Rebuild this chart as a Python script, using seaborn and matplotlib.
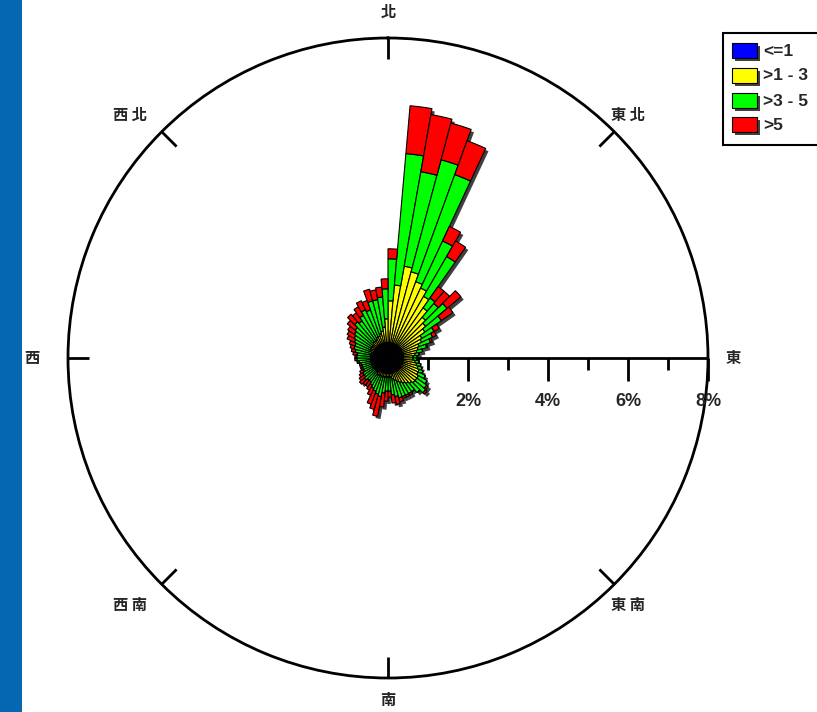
import numpy as np
import matplotlib
matplotlib.use("Agg")
import matplotlib.pyplot as plt
import matplotlib.patheffects as pe
from matplotlib.patches import Rectangle
import seaborn as sns

# ---------------- data ----------------
categories = ['<=1', '>1 - 3', '>3 - 5', '>5']
direction_start = [0, 5, 10, 15, 20, 25, 30, 35, 40, 45, 50, 55,
                   60, 65, 70, 75, 80, 85, 90, 95, 100, 105, 110, 115,
                   120, 125, 130, 135, 140, 145, 150, 155, 160, 165, 170, 175,
                   180, 185, 190, 195, 200, 205, 210, 215, 220, 225, 230, 235,
                   240, 245, 250, 255, 260, 265, 270, 275, 280, 285, 290, 295,
                   300, 305, 310, 315, 320, 325, 330, 335, 340, 345, 350, 355]
seg_le1 = [0.38, 0.38, 0.38, 0.38, 0.38, 0.38, 0.38, 0.38, 0.38, 0.38, 0.38, 0.38,
           0.38, 0.38, 0.38, 0.38, 0.38, 0.38, 0.38, 0.38, 0.38, 0.38, 0.38, 0.38,
           0.38, 0.38, 0.38, 0.38, 0.38, 0.38, 0.38, 0.38, 0.38, 0.38, 0.38, 0.38,
           0.38, 0.38, 0.38, 0.38, 0.38, 0.38, 0.38, 0.38, 0.38, 0.38, 0.38, 0.38,
           0.38, 0.38, 0.38, 0.38, 0.38, 0.38, 0.38, 0.38, 0.38, 0.38, 0.38, 0.38,
           0.38, 0.38, 0.38, 0.38, 0.38, 0.38, 0.38, 0.38, 0.38, 0.38, 0.38, 0.38]
seg_1_3 = [1.05, 1.45, 1.95, 1.85, 1.65, 1.55, 1.40, 1.15, 0.95, 0.85, 0.75, 0.60,
           0.55, 0.45, 0.40, 0.35, 0.30, 0.25, 0.25, 0.30, 0.35, 0.40, 0.45, 0.45,
           0.50, 0.50, 0.50, 0.45, 0.40, 0.35, 0.30, 0.25, 0.20, 0.15, 0.10, 0.10,
           0.10, 0.10, 0.10, 0.10, 0.10, 0.10, 0.10, 0.05, 0.05, 0.05, 0.05, 0.05,
           0.05, 0.05, 0.05, 0.05, 0.05, 0.05, 0.05, 0.05, 0.05, 0.05, 0.10, 0.10,
           0.10, 0.10, 0.10, 0.15, 0.15, 0.15, 0.20, 0.20, 0.25, 0.30, 0.40, 0.60]
seg_3_5 = [1.05, 3.30, 2.40, 2.90, 2.85, 1.30, 1.15, 0.30, 0.45, 0.70, 0.50, 0.35,
           0.30, 0.30, 0.22, 0.15, 0.10, 0.10, 0.10, 0.10, 0.10, 0.10, 0.10, 0.20,
           0.25, 0.30, 0.35, 0.30, 0.25, 0.30, 0.35, 0.40, 0.45, 0.45, 0.45, 0.35,
           0.35, 0.40, 0.50, 0.45, 0.40, 0.35, 0.30, 0.30, 0.30, 0.35, 0.30, 0.30,
           0.25, 0.25, 0.25, 0.25, 0.30, 0.35, 0.35, 0.35, 0.40, 0.45, 0.40, 0.45,
           0.50, 0.55, 0.60, 0.65, 0.60, 0.70, 0.75, 0.70, 0.85, 0.80, 0.75, 0.75]
seg_gt5 = [0.25, 1.20, 1.45, 0.95, 0.90, 0.40, 0.45, 0.35, 0.40, 0.45, 0.35, 0.15,
           0.10, 0.05, 0.03, 0.00, 0.00, 0.00, 0.00, 0.00, 0.00, 0.00, 0.00, 0.00,
           0.00, 0.05, 0.05, 0.00, 0.00, 0.05, 0.05, 0.05, 0.10, 0.20, 0.20, 0.15,
           0.25, 0.35, 0.50, 0.40, 0.35, 0.20, 0.15, 0.15, 0.15, 0.15, 0.15, 0.10,
           0.10, 0.05, 0.05, 0.05, 0.05, 0.05, 0.05, 0.10, 0.10, 0.10, 0.15, 0.20,
           0.20, 0.20, 0.25, 0.25, 0.25, 0.25, 0.25, 0.25, 0.30, 0.25, 0.25, 0.25]
series = [seg_le1, seg_1_3, seg_3_5, seg_gt5]

major_ticks = [2, 4, 6, 8]
major_labels = ['2%', '4%', '6%', '8%']
minor_ticks = [1, 3, 5, 7]
compass_angles = [0, 45, 90, 135, 180, 225, 270, 315]
compass_labels = ['北', '東 北', '東', '東 南', '南', '西 南', '西', '西 北']

# ---------------- style ----------------
sns.set_style("white")
plt.rcParams['font.family'] = ['Liberation Sans', 'DejaVu Sans']
colors = sns.color_palette(['#0000FF', '#FFFF00', '#00FF00', '#FF0000'])

W, H = 817, 712
fig = plt.figure(figsize=(W / 100, H / 100), dpi=100)
fig.patch.set_facecolor('white')

cx, cy, R = 388, 358, 320          # pixel centre / radius of the rose
rmax = 8.0
ax = fig.add_axes([(cx - R) / W, (H - cy - R) / H, 2 * R / W, 2 * R / H],
                  projection='polar')
ax.set_theta_zero_location('N')
ax.set_theta_direction(-1)
ax.set_ylim(0, rmax)
ax.grid(False)
ax.set_xticks([])
ax.set_yticks([])
ax.set_facecolor('none')
ax.spines['polar'].set_linewidth(2.0)
ax.spines['polar'].set_color('black')

theta = np.deg2rad(np.array(direction_start) + 2.5)
width = np.deg2rad(5.0)

# east radial axis line (under bars)
ax.plot([np.pi / 2, np.pi / 2], [0, rmax], color='black', lw=2, zorder=0.5)

# drop shadows
totals = np.sum(np.array(series), axis=0)
ax.bar(theta, totals, width=width, bottom=0, color='black', zorder=1,
       path_effects=[pe.SimplePatchShadow(offset=(2, -2), shadow_rgbFace='black', alpha=0.75)])

bottom = np.zeros(len(direction_start))
for vals, col in zip(series, colors):
    vals = np.array(vals)
    ax.bar(theta, vals, width=width, bottom=bottom, color=col,
           edgecolor='black', linewidth=0.8, zorder=2)
    bottom = bottom + vals

# ---------------- overlay in pixel coordinates ----------------
ov = fig.add_axes([0, 0, 1, 1])
ov.set_xlim(0, W)
ov.set_ylim(H, 0)
ov.axis('off')
ov.patch.set_alpha(0)

# left blue strip
ov.add_patch(Rectangle((0, 0), 22, H, color='#0567B1', lw=0))

# compass ticks on circle
for a in compass_angles:
    if a == 90:
        continue
    ra = np.deg2rad(a)
    x0, y0 = cx + R * np.sin(ra), cy - R * np.cos(ra)
    x1, y1 = cx + (R - 21) * np.sin(ra), cy - (R - 21) * np.cos(ra)
    ov.plot([x0, x1], [y0, y1], color='black', lw=2, solid_capstyle='butt')

# axis ticks and labels
scale = R / rmax
for t in minor_ticks:
    ov.plot([cx + t * scale] * 2, [cy, cy + 12], color='black', lw=2, solid_capstyle='butt')
for t, lab in zip(major_ticks, major_labels):
    ov.plot([cx + t * scale] * 2, [cy, cy + 23], color='black', lw=2, solid_capstyle='butt')
    ov.text(cx + t * scale, cy + 43, lab, ha='center', va='center',
            fontsize=13, fontweight='bold', family=['Liberation Sans', 'DejaVu Sans'])

# compass labels
label_pos = {0: (388, 12), 45: (628, 115), 90: (733, 358), 135: (628, 605),
             180: (388, 700), 225: (130, 605), 270: (32, 358), 315: (130, 115)}
for a, lab in zip(compass_angles, compass_labels):
    x, y = label_pos[a]
    ov.text(x, y, lab, ha='center', va='center', fontsize=11, fontweight='bold',
            family=['Noto Sans CJK TC', 'DejaVu Sans'])

# legend (manual, box runs off right edge like the reference)
ov.add_patch(Rectangle((723, 33), 120, 112, facecolor='white', edgecolor='black',
                       lw=1.5, clip_on=False))
leg_y = [43, 68, 93, 117]
for y0, col, lab in zip(leg_y, colors, categories):
    ov.add_patch(Rectangle((732, y0), 25, 15, facecolor=col, edgecolor='black', lw=0.8,
                           path_effects=[pe.SimplePatchShadow(offset=(2, -2), shadow_rgbFace='black', alpha=0.75),
                                         pe.Normal()]))
    ov.text(763, y0 + 8, lab, ha='left', va='center', fontsize=12.5, fontweight='bold',
            family=['Liberation Sans', 'DejaVu Sans'])

fig.savefig('out.png', dpi=100)
